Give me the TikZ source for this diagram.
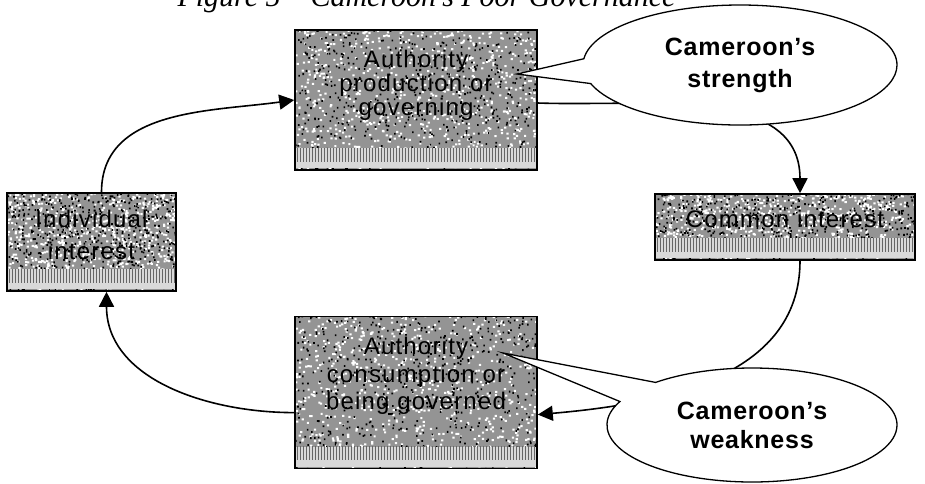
\documentclass[tikz,border=0pt]{standalone}
\usepackage{fontspec}
\setmainfont{Liberation Sans}
\newfontfamily\titlefont{Liberation Serif}
\usetikzlibrary{arrows.meta, calc, patterns, positioning, shapes.callouts}

\pgfmathsetseed{42}
\tikzset{granite/.style={path picture={
  \fill[white] let \p1=(path picture bounding box.south west), \p2=(path picture bounding box.north east) in
    foreach \k in {1,...,800} {({\x1+rnd*(\x2-\x1)}, {\y1+rnd*(\y2-\y1)}) rectangle ++(2.2pt,2pt)};
  \fill[black] let \p1=(path picture bounding box.south west), \p2=(path picture bounding box.north east) in
    foreach \k in {1,...,600} {({\x1+rnd*(\x2-\x1)}, {\y1+rnd*(\y2-\y1)}) rectangle ++(1.6pt,1.8pt)};
  \fill[white!85!black] ([yshift=2pt]path picture bounding box.south west) rectangle ([yshift=22pt]path picture bounding box.south east);
  \fill[pattern=vertical lines, pattern color=black!60] ([yshift=9pt]path picture bounding box.south west) rectangle ([yshift=22pt]path picture bounding box.south east);
}}}
\tikzstyle{box} = [draw, line width=1.6pt, fill=black!42, granite, align=center, font=\fontsize{24}{24}\selectfont\addfontfeature{LetterSpace=5}]
\tikzstyle{arrow} = [line width=1.6pt, -{Triangle[length=15pt, width=15pt]}]
\tikzstyle{bubble} = [ellipse callout, draw, fill=white, line width=1.3pt, callout pointer arc=24, align=center, font=\bfseries\fontsize{25}{32}\selectfont\addfontfeature{LetterSpace=3}]

\begin{document}
\begin{tikzpicture}[x=1pt, y=-1pt]
\useasboundingbox (0,0) rectangle (925,483);

\node(title)[anchor=base west, font=\titlefont\itshape\fontsize{30}{30}\selectfont] at (174,6) {Figure 5 – Cameroon’s Poor Governance};

% the four stages
\node(a1)[box, minimum width=242pt, minimum height=140pt] at (416,100) {Authority\\production or\\governing\\[10pt]};
\node(a2)[box, below = 145pt of a1, minimum width=242pt, minimum height=152pt] {Authority\\[3.5pt]consumption or\\[3.5pt]being governed\\[14pt]};
\node(indiv)[box, minimum width=169pt, minimum height=98pt] at (91.5,242) {Individual\\[8pt]interest\\[-10pt]};
\node(common)[box, minimum width=260pt, minimum height=66pt] at (785,227) {Common interest\\[-8pt]};

% the cycle
\draw [arrow] ([xshift=10pt]indiv.north) to[out=90, in=188] (a1.west);
\draw [arrow] ([yshift=-3pt]a1.east) to[out=-2, in=90] ([xshift=15pt]common.north);
\draw [arrow] ([xshift=15pt]common.south) to[out=-90, in=5] ([yshift=-22pt]a2.east);
\draw [arrow] ([yshift=-20pt]a2.west) to[out=180, in=-90] ([xshift=15pt]indiv.south);

% callouts
\coordinate(tipS) at (517,74);
\coordinate(tipW) at (503,353);
\node(strength)[bubble, minimum width=314pt, minimum height=120pt, callout absolute pointer={(tipS)}] at (740,65) {Cameroon’s\\strength};
\node(weakness)[bubble, minimum width=290pt, minimum height=114pt, callout absolute pointer={(tipW)}] at (752,425) {Cameroon’s\\[-3pt]weakness};

\end{tikzpicture}
\end{document}
